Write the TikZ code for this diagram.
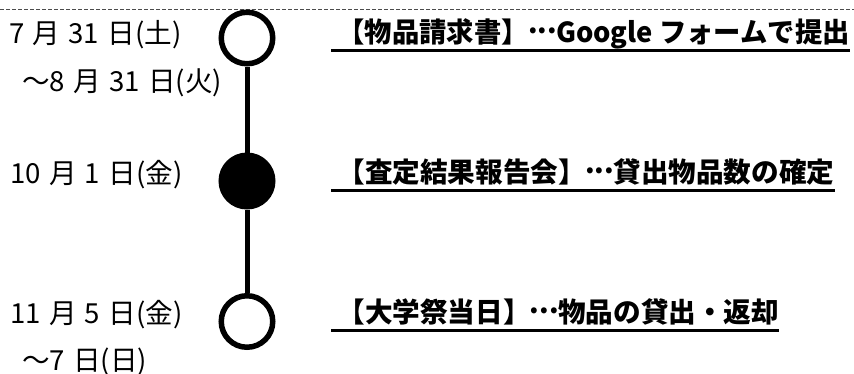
\documentclass[tikz,border=0pt]{standalone}
\usepackage{fontspec}
\setmainfont{Noto Sans CJK JP}
\usetikzlibrary{positioning}
\newcommand\dgap{\hspace{0.3em}}
\newcommand\jdots{\makebox[1em][c]{\raisebox{0.3em}{...}}}

\begin{document}
\begin{tikzpicture}[x=1pt,y=-1pt,
    open/.style={circle,draw,line width=5.5pt,minimum size=51.5pt,inner sep=0pt,fill=white},
    done/.style={open,fill=black},
    date/.style={anchor=base west,inner sep=0pt,font=\fontsize{27.6}{30}\selectfont},
    task/.style={anchor=base west,inner sep=0pt,text depth=8pt,font=\fontsize{27.6}{30}\selectfont\bfseries},
    underline/.style={line width=2.7pt}]

  \useasboundingbox (0,0) rectangle (854,373);
  \draw[dash pattern=on 4pt off 2pt,line width=0.8pt,black!70] (0,9.5) -- (854,9.5);

  % milestones
  \node[open] (Request) at (247,38) {};
  \node[done] (Review) at (247,181) {};
  \node[open] (Festival) at (247,321.5) {};

  \draw[line width=5pt] (Request) -- (Review) -- (Festival);

  % dates
  \node[date] (RequestFrom) at (9,43) {7\dgap 月\dgap 31\dgap 日(土)};
  \node[date] (RequestTo) at (22,91) {～8\dgap 月\dgap 31\dgap 日(火)};
  \node[date] (ReviewDay) at (10,183) {10\dgap 月\dgap 1\dgap 日(金)};
  \node[date] (FestivalFrom) at (10,323) {11\dgap 月\dgap 5\dgap 日(金)};
  \node[date] (FestivalTo) at (22,370) {～7\dgap 日(日)};

  % tasks
  \node[task] (RequestTask) at (331,42) {\scalebox{0.99}[1]{\ 【物品請求書】\jdots Google フォームで提出}};
  \node[task] (ReviewTask) at (331,182) {\ 【査定結果報告会】\jdots 貸出物品数の確定};
  \node[task] (FestivalTask) at (331,322) {\ 【大学祭当日】\jdots 物品の貸出・返却};

  \draw[underline] (RequestTask.south west) -- (RequestTask.south east);
  \draw[underline] (ReviewTask.south west) -- (ReviewTask.south east);
  \draw[underline] (FestivalTask.south west) -- (FestivalTask.south east);

\end{tikzpicture}
\end{document}
